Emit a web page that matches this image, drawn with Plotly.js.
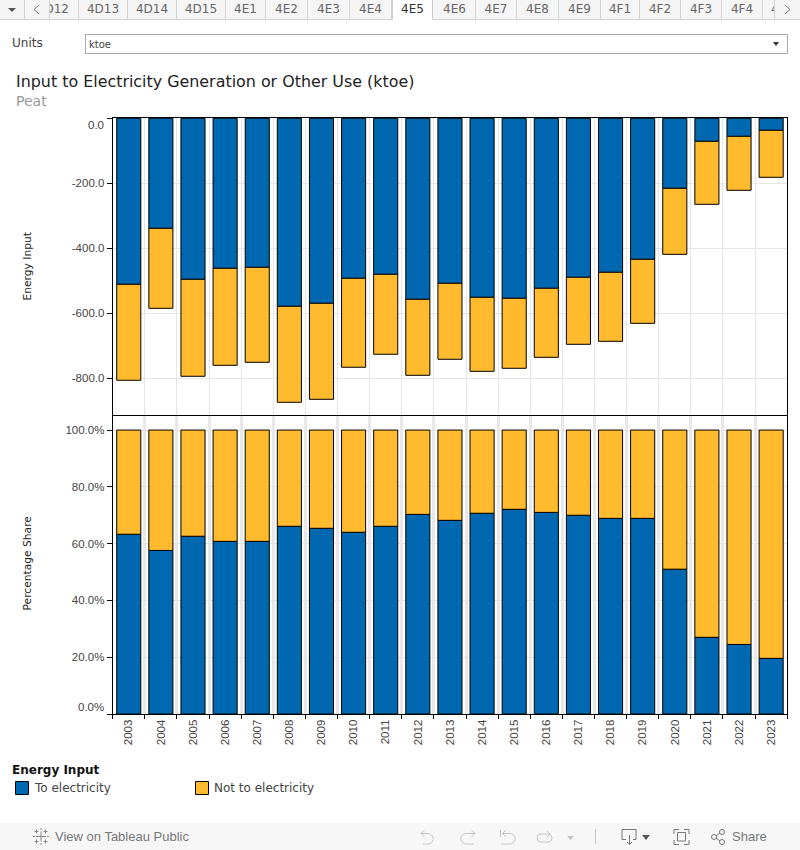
<!DOCTYPE html>
<html><head><meta charset="utf-8">
<script src="https://cdn.plot.ly/plotly-3.0.1.min.js"></script>
<style>
html,body{margin:0;padding:0;background:#fff;width:800px;height:850px;overflow:hidden;font-family:"DejaVu Sans",sans-serif}
#chart{position:absolute;left:0;top:0;width:800px;height:850px}
.ui{position:absolute;white-space:nowrap}
#tabs{left:0;top:0;width:800px;height:19px;background:#f5f5f5;border-bottom:1px solid #cfcfcf}
.tab{position:absolute;top:0;height:19px;line-height:19px;text-align:center;font-size:12px;color:#666;border-right:1px solid #d4d4d4;overflow:hidden;box-sizing:border-box}
#active{position:absolute;left:392px;top:0;width:41px;height:20px;background:#fff;border-right:1px solid #cfcfcf;border-left:1px solid #cfcfcf;line-height:19px;text-align:center;font-size:12px;color:#333;box-sizing:border-box}
#dd{left:85px;top:34px;width:701px;height:18px;border:1px solid #aaa;background:#fff;font-size:10px;line-height:19px;color:#444;text-indent:3px}
#foot{left:0;top:823px;width:800px;height:27px;background:#f7f7f7}
.ft{position:absolute;top:829px;font:13px "Liberation Sans",sans-serif;color:#777}
svg.ic{position:absolute;left:0;top:0;overflow:visible;pointer-events:none}
</style></head><body>
<div id="chart"></div>
<div class="ui" id="tabs"></div>
<div class="ui" style="left:12px;top:36px;font-size:12px;color:#444">Units</div>
<div class="ui" id="dd">ktoe</div>
<div class="ui" style="left:773px;top:42px;width:0;height:0;border-left:3.5px solid transparent;border-right:3.5px solid transparent;border-top:4px solid #333"></div>
<div class="ui" style="left:16px;top:72px;font-size:15.9px;color:#222">Input to Electricity Generation or Other Use (ktoe)</div>
<div class="ui" style="left:16px;top:93px;font-size:14px;color:#999">Peat</div>
<div class="ui" id="foot"></div>
<div class="ui ft" style="left:55px">View on Tableau Public</div>
<div class="ui ft" style="left:732px">Share</div>
<svg class="ic" width="800" height="850" fill="none">
 <!-- tab strip controls -->
 <path d="M8 8h8l-4 4z" fill="#555"/>
 <path d="M24.5 0v19M49.5 0v19M774.5 0v19" stroke="#d4d4d4"/>
 <path d="M39 5l-5 4.500 5 4.500" stroke="#777"/>
 <path d="M785 5l5 4.500-5 4.500" stroke="#777"/>
 <!-- tableau mark -->
 <g stroke="#888" stroke-width="1"><path d="M41 831.500v10M36 836.500h10M36.500 829.500v4M34.500 831.500h4M45.500 829.500v4M43.500 831.500h4M36.500 839.500v4M34.500 841.500h4M45.500 839.500v4M43.500 841.500h4M41 828v2M41 843v2M33 836.500h2M47 836.500h2"/></g>
 <!-- undo, redo, revert, refresh (disabled) -->
 <g stroke="#c6c6c6" stroke-width="1">
  <path d="M421 833.500h7a5 5 0 0 1 0 10.500h-5M424.500 830l-3.500 3.500 3.500 3.500"/>
  <path d="M475 833.500h-9a5 5 0 0 0 0 10.500h8M471.500 830l3.500 3.500-3.500 3.500"/>
  <path d="M503 833.500h7a5 5 0 0 1 0 10.500h-9M506 830l-3.500 3.500 3.500 3.500M500.500 830v7"/>
  <path d="M540 834h8a4 4 0 0 1 0 8h-7a4 4 0 0 1 0-8M547 831l3 3-3 3"/>
  <path d="M595.500 829v15"/>
 </g>
 <path d="M567 836h7l-3.500 4z" fill="#c6c6c6"/>
 <!-- download, fullscreen, share -->
 <g stroke="#777" stroke-width="1">
  <path d="M626 839.500h-4v-10h14v10h-3M629.500 835v9M627 842l2.500 2.500 2.500-2.500"/>
  <path d="M674 834v-4.500h5M684 829.500h5v4.500M689 840v4.500h-5M679 844.500h-5v-4.500M677.500 832.500h8v8.500h-8z"/>
  <circle cx="714" cy="837" r="2.500"/><circle cx="722" cy="832" r="2.500"/><circle cx="722" cy="842" r="2.500"/>
  <path d="M716 836l4-3M716 838l4 3"/>
 </g>
 <path d="M642 835h8l-4 5z" fill="#555"/>
</svg>
<script>
var years=["2003","2004","2005","2006","2007","2008","2009","2010","2011","2012","2013","2014","2015","2016","2017","2018","2019","2020","2021","2022","2023"];
var toElectricity=[-510.8,-338.5,-495.4,-461.5,-458.5,-578.5,-569.2,-492.3,-480,-556.9,-507.7,-550.8,-553.8,-523,-489.2,-473.8,-433.8,-215.4,-70.8,-55.4,-36.9];
var notToElectricity=[-295.2,-246.1,-298.4,-298.5,-292.3,-295.3,-295.4,-273.7,-246,-233.9,-233.8,-227.7,-215.4,-212.4,-206.2,-212.4,-197,-203.1,-193.8,-166.1,-144.6];
var shareToElectricity=[63.3,57.6,62.6,60.8,60.8,66.1,65.4,64.0,66.1,70.3,68.2,70.7,72.1,71.0,70.0,68.9,68.9,51.0,27.0,24.5,19.6];
var shareNotToElectricity=[36.7,42.4,37.4,39.2,39.2,33.9,34.6,36.0,33.9,29.7,31.8,29.3,27.9,29.0,30.0,31.1,31.1,49.0,73.0,75.5,80.4];
var seriesNames=["To electricity","Not to electricity"];
var tabLabels=["4D13","4D14","4D15","4E1","4E2","4E3","4E4"];
var tabLabelsRight=["4E6","4E7","4E8","4E9","4F1","4F2","4F3","4F4"];
var blue="#0068b0",amber="#ffba2e";
function bar(name,y,color,xa,ya){return {type:"bar",name:name,x:years,y:y,xaxis:xa,yaxis:ya,showlegend:false,
 marker:{color:color,line:{color:"#000",width:1}},hoverinfo:"x+y+name"};}
var data=[
 bar(seriesNames[0],toElectricity,blue,"x","y"),
 bar(seriesNames[1],notToElectricity,amber,"x","y"),
 bar(seriesNames[0],shareToElectricity,blue,"x2","y2"),
 bar(seriesNames[1],shareNotToElectricity,amber,"x2","y2")
];
var W=800,H=850,L=112.7,R=787.2,T1=118,B1=416,T2=416,B2=714;
var tf={family:"Liberation Sans, Arial, sans-serif",size:11.5,color:"#444"};
var titleFont={family:"DejaVu Sans, sans-serif",size:10.7,color:"#222"};
var legFont={family:"DejaVu Sans, sans-serif",size:12,color:"#444"};
var grid="#e6e6e6";
function note(text,x,y,font,extra){var a={text:text,xref:"paper",yref:"paper",x:x/W,y:1-y/H,xanchor:"left",yanchor:"middle",showarrow:false,font:font};for(var k in extra)a[k]=extra[k];return a;}
var layout={width:W,height:H,margin:{l:0,r:0,t:0,b:0},paper_bgcolor:"#fff",plot_bgcolor:"#fff",barmode:"relative",bargap:0.25,showlegend:false,
 font:tf,
 xaxis:{domain:[L/W,R/W],anchor:"y",side:"top",type:"category",range:[-0.5,20.5],tickson:"boundaries",showticklabels:false,ticks:"",showgrid:true,gridcolor:grid,gridwidth:1,showline:true,linecolor:"#000",linewidth:1,zeroline:false},
 xaxis2:{domain:[L/W,R/W],anchor:"y2",type:"category",range:[-0.5,20.5],tickson:"boundaries",tickangle:-90,ticks:"outside",ticklen:4,tickcolor:"#000",showgrid:true,gridcolor:"#e8e8e8",gridwidth:3,showline:true,linecolor:"#000",linewidth:1,mirror:true,zeroline:false,tickfont:tf},
 yaxis:{domain:[1-B1/H,1-T1/H],anchor:"x",range:[-916,1],tickvals:[0,-200,-400,-600,-800],ticktext:[" ","-200.0","-400.0","-600.0","-800.0"],ticks:"outside",ticklen:5,tickcolor:"#000",showline:true,linecolor:"#000",mirror:true,gridcolor:grid,zeroline:false,tickfont:tf},
 yaxis2:{domain:[1-B2/H,1-T2/H],anchor:"x2",range:[0,104.95],tickvals:[0,20,40,60,80,100],ticktext:[" ","20.0%","40.0%","60.0%","80.0%","100.0%"],ticks:"outside",ticklen:5,tickcolor:"#000",showline:true,linecolor:"#000",mirror:true,gridcolor:grid,zeroline:false,tickfont:tf},
 annotations:[
  {text:"0.0",xref:"paper",x:105.5/W,xanchor:"right",yref:"y",y:0,yanchor:"middle",yshift:-6.5,showarrow:false,font:tf},
  {text:"0.0%",xref:"paper",x:105.5/W,xanchor:"right",yref:"y2",y:0,yanchor:"middle",yshift:7,showarrow:false,font:tf},
  note("Energy Input",26.5,266,titleFont,{xanchor:"center",textangle:-90}),
  note("Percentage Share",26.5,564,titleFont,{xanchor:"center",textangle:-90}),
  note("<b>Energy Input</b>",10,770,{family:"DejaVu Sans, sans-serif",size:12,color:"#111"}),
  note(seriesNames[0],32,788,legFont),
  note(seriesNames[1],212,788,legFont)
 ],
 shapes:[
  {type:"rect",xref:"paper",yref:"paper",x0:15.5/W,x1:28.5/W,y0:1-794.5/H,y1:1-781.5/H,fillcolor:blue,line:{color:"#000",width:1}},
  {type:"rect",xref:"paper",yref:"paper",x0:195.5/W,x1:208.5/W,y0:1-794.5/H,y1:1-781.5/H,fillcolor:amber,line:{color:"#000",width:1}}
 ]
};
Plotly.newPlot("chart",data,layout,{displayModeBar:false,responsive:false});
// tab strip
var tabs=document.getElementById("tabs");
function addTab(t,l,w){var d=document.createElement("div");d.className="tab";d.style.left=l+"px";d.style.width=w+"px";d.textContent=t;tabs.appendChild(d);return d;}
var first=addTab("",50,29);
var s=document.createElement("span");s.textContent="D12";s.style.cssText="position:absolute;right:9px;top:0";first.appendChild(s);
var pos=[[79,49],[128,49],[177,49],[226,40],[266,42],[308,42],[350,42]];
tabLabels.forEach(function(t,i){addTab(t,pos[i][0],pos[i][1]);});
var a=document.createElement("div");a.id="active";a.textContent="4E5";tabs.appendChild(a);
var posR=[[434,42],[476,41],[517,42],[559,42],[601,39],[640,41],[681,41],[722,41]];
tabLabelsRight.forEach(function(t,i){addTab(t,posR[i][0],posR[i][1]);});
var clip=addTab("",763,12);clip.style.borderRight="0";
var c=document.createElement("span");c.textContent="4";c.style.cssText="position:absolute;left:8px;top:0;width:3px;overflow:hidden";clip.appendChild(c);
</script>
</body></html>
